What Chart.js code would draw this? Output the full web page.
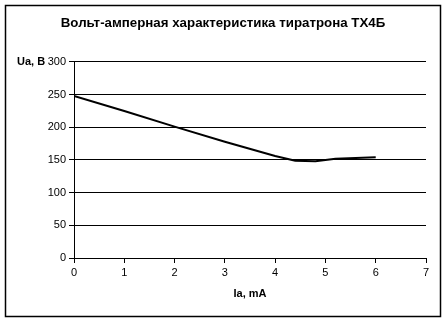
<!DOCTYPE html>
<html>
<head>
<meta charset="utf-8">
<script src="https://cdn.jsdelivr.net/npm/chart.js@4"></script>
<style>
  html, body { margin: 0; padding: 0; background: #fff; }
  #wrap { width: 446px; height: 322px; }
</style>
</head>
<body>
<div id="wrap"><canvas id="vaChart" width="446" height="322"></canvas></div>
<script>
// Anode current, mA and anode voltage, V
const currentMA = [0, 1, 2, 3, 4, 4.4, 4.8, 5.2, 5.6, 6];
const voltageV = [248, 225, 201, 178, 156, 149, 148, 152, 153, 154];
const xTicks = [0, 1, 2, 3, 4, 5, 6, 7];
const yTicks = [0, 50, 100, 150, 200, 250, 300];

const FONT = '"Liberation Sans", Arial, sans-serif';

// outer frame + y-axis caption sitting left of the top tick
const framePlugin = {
  id: 'frame',
  afterDraw(chart) {
    const ctx = chart.ctx;
    ctx.save();
    ctx.strokeStyle = '#000';
    ctx.lineWidth = 1.5;
    ctx.strokeRect(5.5, 5.5, 435, 311);
    ctx.font = 'bold 11px ' + FONT;
    ctx.fillStyle = '#000';
    ctx.textAlign = 'left';
    ctx.textBaseline = 'middle';
    ctx.fillText('Ua, B', 17, chart.scales.y.getPixelForValue(300));
    ctx.restore();
  }
};

const points = currentMA.map((x, i) => ({ x: x, y: voltageV[i] }));

new Chart(document.getElementById('vaChart').getContext('2d'), {
  type: 'scatter',
  data: {
    datasets: [{
      data: points,
      showLine: true,
      borderColor: '#000',
      borderWidth: 2,
      pointRadius: 0,
      tension: 0
    }]
  },
  options: {
    responsive: false,
    animation: false,
    layout: { padding: { left: 20, right: 20, top: 5, bottom: 0 } },
    plugins: {
      legend: { display: false },
      tooltip: { enabled: false },
      title: {
        display: true,
        text: 'Вольт-амперная характеристика тиратрона ТХ4Б',
        color: '#000',
        font: { family: FONT, size: 13.3, weight: 'bold', lineHeight: 1.2 },
        padding: { top: 10, bottom: 31 }
      }
    },
    scales: {
      x: {
        type: 'linear',
        min: 0,
        max: 7,
        afterBuildTicks: s => { s.ticks = xTicks.map(v => ({ value: v })); },
        afterFit: s => { s.height = 64; },
        grid: { drawOnChartArea: false, drawTicks: true, tickLength: 5, color: '#000' },
        border: { color: '#000', width: 1 },
        ticks: { color: '#000', padding: 3, font: { family: FONT, size: 11 } },
        title: {
          display: true,
          text: 'Ia, mA',
          color: '#000',
          font: { family: FONT, size: 11, weight: 'bold' },
          padding: { top: 0, bottom: 21 }
        }
      },
      y: {
        min: 0,
        max: 300,
        afterBuildTicks: s => { s.ticks = yTicks.map(v => ({ value: v })); },
        afterFit: s => { s.width = 54; },
        grid: { color: '#000', lineWidth: 1, tickLength: 5 },
        border: { color: '#000', width: 1 },
        ticks: { color: '#000', padding: 3, font: { family: FONT, size: 11 } }
      }
    }
  },
  plugins: [framePlugin]
});
</script>
</body>
</html>
